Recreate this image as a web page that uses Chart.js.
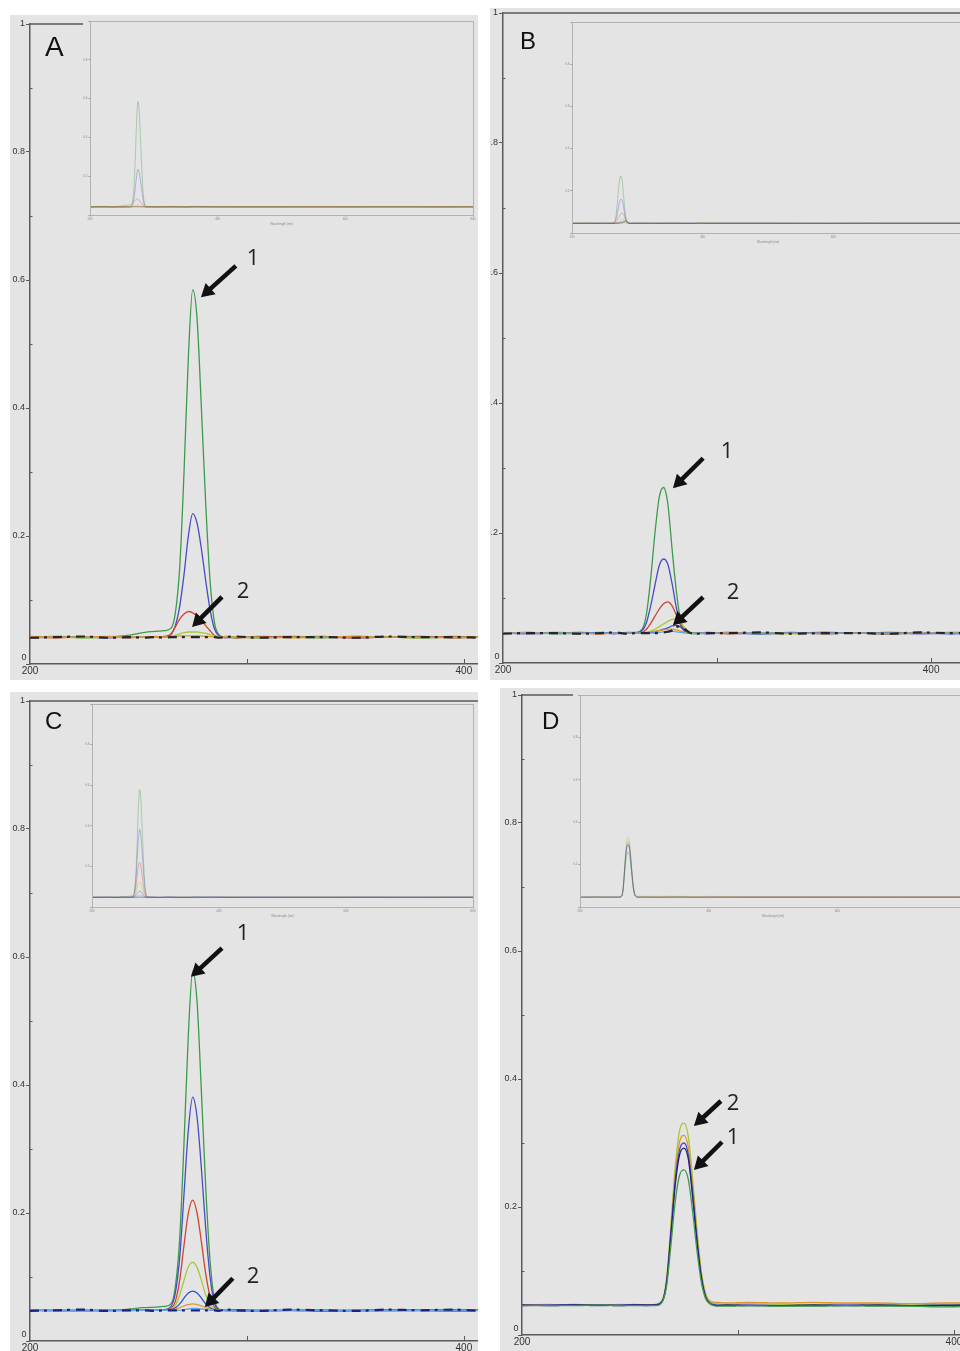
<!DOCTYPE html>
<html>
<head>
<meta charset="utf-8">
<title>Absorbance spectra A-D</title>
<script src="https://cdn.jsdelivr.net/npm/chart.js@4.4.1/dist/chart.umd.min.js"></script>
<style>
  body { margin: 0; background: #fff; }
  #sheet { position: relative; width: 960px; height: 1351px; overflow: hidden; background: #fff; }
  canvas { position: absolute; }
  canvas.main { z-index: 1; }
  canvas.inset { z-index: 2; }
  .tag { position: absolute; z-index: 5; line-height: 1; color: #111;
         font-family: "Liberation Sans", Arial, sans-serif; }
</style>
</head>
<body>
<div id="sheet">
  <canvas class="main" id="mainA" width="468" height="665" style="left:10px;top:15px"></canvas>
  <canvas class="main" id="mainB" width="470" height="672" style="left:490px;top:8px"></canvas>
  <canvas class="main" id="mainC" width="468" height="659" style="left:10px;top:692px"></canvas>
  <canvas class="main" id="mainD" width="460" height="663" style="left:500px;top:688px"></canvas>

  <canvas class="inset" id="insetA" width="395" height="209" style="left:83px;top:17px"></canvas>
  <canvas class="inset" id="insetB" width="405" height="226" style="left:565px;top:18px"></canvas>
  <canvas class="inset" id="insetC" width="393" height="216" style="left:85px;top:702px"></canvas>
  <canvas class="inset" id="insetD" width="400" height="227" style="left:573px;top:691px"></canvas>

  <div class="tag" style="left:45px;top:33px;font-size:28px">A</div>
  <div class="tag" style="left:520px;top:29px;font-size:24px">B</div>
  <div class="tag" style="left:45px;top:709px;font-size:24px">C</div>
  <div class="tag" style="left:542px;top:709px;font-size:24px">D</div>
</div>
<script>
// wavelength grid (nm) shared by every trace
const wavelengths = [200, 212, 224, 236, 246, 252, 258, 262, 265, 267, 269, 271, 273, 275, 277, 279, 281, 283, 285, 287,
  290, 295, 305, 320, 335, 350, 365, 380, 395, 410, 450, 500, 550, 600, 650, 700, 750, 800];

// axis ticks
const mainXTicks = [200, 300, 400];
const mainXLabels = [200, 400];
const insetXTicks = [200, 400, 600, 800];

// ---- panel A absorbance ----
const aGreen = [0.042, 0.043, 0.041, 0.042, 0.045, 0.049, 0.051, 0.052, 0.056, 0.080, 0.150, 0.300, 0.480, 0.585, 0.540, 0.400, 0.250, 0.130, 0.065, 0.046,
  0.042, 0.041, 0.043, 0.042, 0.041, 0.043, 0.042, 0.041, 0.042, 0.043, 0.042, 0.042, 0.041, 0.042, 0.043, 0.042, 0.041, 0.042];
const aBlue = [0.041, 0.042, 0.042, 0.041, 0.042, 0.042, 0.042, 0.042, 0.046, 0.060, 0.090, 0.140, 0.200, 0.235, 0.220, 0.180, 0.130, 0.085, 0.055, 0.044,
  0.041, 0.042, 0.041, 0.042, 0.043, 0.041, 0.042, 0.043, 0.041, 0.042, 0.041, 0.042, 0.042, 0.041, 0.042, 0.042, 0.041, 0.042];
const aRed = [0.042, 0.041, 0.042, 0.042, 0.041, 0.042, 0.042, 0.043, 0.047, 0.058, 0.070, 0.078, 0.082, 0.080, 0.075, 0.068, 0.060, 0.052, 0.045, 0.042,
  0.042, 0.041, 0.042, 0.043, 0.042, 0.041, 0.042, 0.042, 0.043, 0.042, 0.042, 0.041, 0.042, 0.042, 0.041, 0.042, 0.042, 0.042];
const aLime = [0.042, 0.042, 0.041, 0.042, 0.042, 0.042, 0.042, 0.042, 0.043, 0.045, 0.047, 0.049, 0.050, 0.050, 0.050, 0.049, 0.048, 0.046, 0.044, 0.042,
  0.042, 0.042, 0.041, 0.042, 0.042, 0.043, 0.042, 0.041, 0.042, 0.042, 0.043, 0.042, 0.042, 0.041, 0.042, 0.042, 0.042, 0.042];
const aOrange = [0.043, 0.042, 0.042, 0.043, 0.042, 0.042, 0.043, 0.042, 0.043, 0.043, 0.044, 0.044, 0.044, 0.044, 0.044, 0.044, 0.043, 0.043, 0.042, 0.042,
  0.043, 0.042, 0.042, 0.041, 0.042, 0.043, 0.042, 0.042, 0.041, 0.042, 0.042, 0.042, 0.043, 0.042, 0.042, 0.042, 0.042, 0.042];
const aBlack = [0.041, 0.042, 0.043, 0.041, 0.042, 0.041, 0.042, 0.041, 0.042, 0.042, 0.042, 0.042, 0.042, 0.042, 0.042, 0.042, 0.042, 0.042, 0.042, 0.041,
  0.042, 0.043, 0.041, 0.042, 0.042, 0.041, 0.043, 0.042, 0.042, 0.041, 0.042, 0.042, 0.042, 0.042, 0.042, 0.042, 0.042, 0.042];

// ---- panel B absorbance ----
const bGreen = [0.046, 0.047, 0.045, 0.046, 0.047, 0.046, 0.047, 0.047, 0.052, 0.075, 0.130, 0.200, 0.255, 0.270, 0.245, 0.175, 0.110, 0.065, 0.050, 0.046,
  0.045, 0.046, 0.047, 0.045, 0.046, 0.047, 0.046, 0.045, 0.046, 0.047, 0.046, 0.046, 0.045, 0.046, 0.047, 0.046, 0.046, 0.046];
const bBlue = [0.046, 0.045, 0.046, 0.047, 0.046, 0.045, 0.046, 0.046, 0.050, 0.062, 0.088, 0.120, 0.150, 0.160, 0.152, 0.122, 0.085, 0.058, 0.048, 0.046,
  0.046, 0.045, 0.046, 0.046, 0.047, 0.045, 0.046, 0.046, 0.045, 0.046, 0.046, 0.046, 0.046, 0.045, 0.046, 0.046, 0.046, 0.046];
const bRed = [0.046, 0.046, 0.047, 0.046, 0.045, 0.046, 0.046, 0.046, 0.047, 0.052, 0.061, 0.072, 0.083, 0.091, 0.094, 0.088, 0.074, 0.060, 0.050, 0.046,
  0.046, 0.046, 0.045, 0.046, 0.046, 0.047, 0.046, 0.045, 0.046, 0.046, 0.046, 0.046, 0.046, 0.046, 0.046, 0.046, 0.046, 0.046];
const bLime = [0.046, 0.046, 0.046, 0.045, 0.046, 0.046, 0.046, 0.046, 0.046, 0.047, 0.049, 0.052, 0.056, 0.060, 0.064, 0.067, 0.068, 0.062, 0.054, 0.048,
  0.046, 0.046, 0.046, 0.046, 0.045, 0.046, 0.046, 0.046, 0.046, 0.046, 0.046, 0.046, 0.046, 0.046, 0.046, 0.046, 0.046, 0.046];
const bMidBlue = [0.046, 0.046, 0.046, 0.046, 0.046, 0.046, 0.046, 0.046, 0.046, 0.046, 0.047, 0.048, 0.050, 0.052, 0.054, 0.057, 0.058, 0.055, 0.050, 0.047,
  0.046, 0.047, 0.046, 0.045, 0.046, 0.046, 0.046, 0.047, 0.046, 0.045, 0.046, 0.046, 0.046, 0.046, 0.046, 0.046, 0.046, 0.046];
const bOrange = [0.046, 0.047, 0.046, 0.046, 0.045, 0.046, 0.046, 0.046, 0.046, 0.047, 0.048, 0.049, 0.050, 0.051, 0.052, 0.052, 0.051, 0.049, 0.047, 0.046,
  0.046, 0.046, 0.047, 0.046, 0.046, 0.045, 0.046, 0.046, 0.047, 0.046, 0.046, 0.046, 0.046, 0.046, 0.046, 0.046, 0.046, 0.046];
const bCyan = [0.046, 0.046, 0.046, 0.046, 0.046, 0.046, 0.046, 0.046, 0.046, 0.046, 0.046, 0.046, 0.047, 0.048, 0.049, 0.049, 0.048, 0.047, 0.046, 0.046,
  0.046, 0.046, 0.046, 0.046, 0.046, 0.046, 0.046, 0.046, 0.046, 0.046, 0.046, 0.046, 0.046, 0.046, 0.046, 0.046, 0.046, 0.046];
const bBlack = [0.045, 0.046, 0.046, 0.045, 0.046, 0.047, 0.045, 0.046, 0.046, 0.046, 0.046, 0.046, 0.046, 0.047, 0.048, 0.050, 0.055, 0.057, 0.052, 0.047,
  0.045, 0.046, 0.046, 0.047, 0.045, 0.046, 0.046, 0.045, 0.047, 0.046, 0.046, 0.046, 0.046, 0.046, 0.046, 0.046, 0.046, 0.046];

// ---- panel C absorbance ----
const cGreen = [0.048, 0.047, 0.048, 0.048, 0.050, 0.052, 0.053, 0.054, 0.058, 0.085, 0.160, 0.310, 0.480, 0.578, 0.530, 0.390, 0.240, 0.125, 0.065, 0.050,
  0.047, 0.048, 0.047, 0.048, 0.049, 0.047, 0.048, 0.048, 0.047, 0.048, 0.048, 0.047, 0.048, 0.048, 0.048, 0.047, 0.048, 0.048];
const cBlue = [0.048, 0.048, 0.047, 0.048, 0.048, 0.048, 0.048, 0.049, 0.054, 0.075, 0.130, 0.230, 0.330, 0.381, 0.350, 0.270, 0.175, 0.100, 0.060, 0.049,
  0.048, 0.047, 0.048, 0.048, 0.047, 0.048, 0.049, 0.048, 0.047, 0.048, 0.048, 0.048, 0.047, 0.048, 0.048, 0.048, 0.048, 0.048];
const cRed = [0.048, 0.048, 0.048, 0.047, 0.048, 0.048, 0.048, 0.048, 0.051, 0.062, 0.095, 0.150, 0.200, 0.220, 0.200, 0.155, 0.105, 0.070, 0.053, 0.048,
  0.048, 0.048, 0.047, 0.048, 0.048, 0.048, 0.047, 0.048, 0.048, 0.049, 0.048, 0.048, 0.048, 0.048, 0.048, 0.048, 0.048, 0.048];
const cLime = [0.048, 0.048, 0.048, 0.048, 0.047, 0.048, 0.048, 0.048, 0.050, 0.056, 0.072, 0.095, 0.116, 0.123, 0.115, 0.095, 0.072, 0.057, 0.050, 0.048,
  0.048, 0.048, 0.048, 0.047, 0.048, 0.048, 0.048, 0.048, 0.048, 0.048, 0.047, 0.048, 0.048, 0.048, 0.048, 0.048, 0.048, 0.048];
const cMidBlue = [0.048, 0.048, 0.048, 0.048, 0.048, 0.048, 0.048, 0.048, 0.049, 0.052, 0.058, 0.067, 0.075, 0.078, 0.075, 0.067, 0.058, 0.052, 0.049, 0.048,
  0.048, 0.049, 0.048, 0.048, 0.047, 0.048, 0.048, 0.048, 0.049, 0.048, 0.048, 0.048, 0.048, 0.048, 0.048, 0.048, 0.048, 0.048];
const cOrange = [0.048, 0.048, 0.048, 0.048, 0.048, 0.048, 0.048, 0.048, 0.048, 0.050, 0.052, 0.055, 0.057, 0.058, 0.057, 0.055, 0.052, 0.050, 0.048, 0.048,
  0.048, 0.048, 0.047, 0.048, 0.048, 0.048, 0.048, 0.047, 0.048, 0.048, 0.048, 0.048, 0.048, 0.048, 0.048, 0.048, 0.048, 0.048];
const cCyan = [0.048, 0.048, 0.048, 0.048, 0.048, 0.048, 0.048, 0.048, 0.048, 0.048, 0.048, 0.049, 0.050, 0.051, 0.051, 0.050, 0.049, 0.048, 0.048, 0.048,
  0.048, 0.048, 0.048, 0.048, 0.048, 0.048, 0.048, 0.048, 0.048, 0.048, 0.048, 0.048, 0.048, 0.048, 0.048, 0.048, 0.048, 0.048];
const cNavy = [0.047, 0.048, 0.049, 0.047, 0.048, 0.048, 0.047, 0.048, 0.048, 0.048, 0.048, 0.048, 0.048, 0.048, 0.048, 0.048, 0.048, 0.048, 0.048, 0.047,
  0.049, 0.048, 0.047, 0.049, 0.048, 0.047, 0.049, 0.048, 0.049, 0.047, 0.048, 0.048, 0.048, 0.048, 0.048, 0.048, 0.048, 0.048];

// ---- panel D absorbance ----
const dLime = [0.047, 0.048, 0.047, 0.047, 0.048, 0.047, 0.047, 0.048, 0.055, 0.090, 0.175, 0.265, 0.320, 0.331, 0.310, 0.245, 0.165, 0.100, 0.065, 0.052,
  0.049, 0.048, 0.049, 0.048, 0.048, 0.049, 0.048, 0.047, 0.048, 0.048, 0.048, 0.048, 0.048, 0.048, 0.048, 0.048, 0.048, 0.048];
const dOrange = [0.047, 0.047, 0.048, 0.047, 0.047, 0.048, 0.047, 0.048, 0.054, 0.087, 0.167, 0.252, 0.302, 0.312, 0.293, 0.232, 0.157, 0.096, 0.064, 0.053,
  0.051, 0.050, 0.051, 0.050, 0.051, 0.050, 0.050, 0.049, 0.050, 0.050, 0.049, 0.049, 0.049, 0.049, 0.049, 0.049, 0.049, 0.049];
const dBlue = [0.046, 0.047, 0.047, 0.046, 0.047, 0.047, 0.046, 0.047, 0.053, 0.085, 0.162, 0.243, 0.290, 0.300, 0.282, 0.222, 0.150, 0.092, 0.060, 0.050,
  0.047, 0.046, 0.047, 0.046, 0.046, 0.047, 0.046, 0.046, 0.047, 0.046, 0.047, 0.047, 0.047, 0.047, 0.047, 0.047, 0.047, 0.047];
const dNavy = [0.047, 0.046, 0.047, 0.047, 0.046, 0.047, 0.047, 0.047, 0.053, 0.083, 0.158, 0.236, 0.282, 0.292, 0.275, 0.216, 0.146, 0.090, 0.059, 0.049,
  0.046, 0.047, 0.046, 0.046, 0.047, 0.046, 0.047, 0.046, 0.046, 0.047, 0.046, 0.046, 0.046, 0.046, 0.046, 0.046, 0.046, 0.046];
const dGreen = [0.046, 0.046, 0.046, 0.047, 0.046, 0.046, 0.046, 0.046, 0.052, 0.078, 0.142, 0.210, 0.250, 0.258, 0.243, 0.193, 0.132, 0.083, 0.057, 0.049,
  0.045, 0.045, 0.046, 0.045, 0.045, 0.046, 0.045, 0.045, 0.044, 0.045, 0.045, 0.045, 0.045, 0.045, 0.045, 0.045, 0.045, 0.045];

// peak markers, in wavelength / absorbance units
const arrowsA = [
  { text: '1', tail: [294.9, 0.622], tip: [278.8, 0.573], at: [302.8, 0.633] },
  { text: '2', tail: [288.5, 0.105], tip: [274.7, 0.058], at: [298.2, 0.1125] }
];
const arrowsB = [
  { text: '1', tail: [293.5, 0.315], tip: [279.4, 0.269], at: [304.7, 0.325] },
  { text: '2', tail: [293.5, 0.1015], tip: [279.4, 0.058], at: [307.5, 0.108] }
];
const arrowsC = [
  { text: '1', tail: [288.5, 0.614], tip: [274.2, 0.569], at: [298.2, 0.636] },
  { text: '2', tail: [293.5, 0.098], tip: [280.6, 0.053], at: [302.8, 0.100] }
];
const arrowsD = [
  { text: '2', tail: [292.1, 0.3656], tip: [279.6, 0.3266], at: [297.7, 0.361] },
  { text: '1', tail: [292.6, 0.3016], tip: [279.6, 0.258], at: [297.7, 0.309] }
];

const GREEN = '#3d9a4c', BLUE = '#4b4bc4', RED = '#cf4530', LIME = '#a6c93a', ORANGE = '#e0962a',
  BLACK = '#262626', MIDBLUE = '#2f4fd6', CYAN = '#5fa9e6', NAVY = '#20207e';
const GRAY_BG = '#e4e4e4', AXIS = '#5a5a5a', LABEL = '#333';

// noisy baseline traces are drawn broken so the colours below show through
const seriesA = [
  { values: aBlack, color: BLACK, noisy: true }, { values: aOrange, color: ORANGE }, { values: aLime, color: LIME },
  { values: aRed, color: RED }, { values: aBlue, color: BLUE }, { values: aGreen, color: GREEN }
];
const seriesB = [
  { values: bBlack, color: BLACK, noisy: true }, { values: bCyan, color: CYAN }, { values: bOrange, color: ORANGE },
  { values: bMidBlue, color: MIDBLUE }, { values: bLime, color: LIME }, { values: bRed, color: RED },
  { values: bBlue, color: BLUE }, { values: bGreen, color: GREEN }
];
const seriesC = [
  { values: cNavy, color: NAVY, noisy: true }, { values: cCyan, color: CYAN }, { values: cOrange, color: ORANGE },
  { values: cMidBlue, color: MIDBLUE }, { values: cLime, color: LIME }, { values: cRed, color: RED },
  { values: cBlue, color: BLUE }, { values: cGreen, color: GREEN }
];
const seriesD = [
  { values: dGreen, color: GREEN }, { values: dNavy, color: NAVY }, { values: dBlue, color: BLUE },
  { values: dOrange, color: ORANGE }, { values: dLime, color: LIME }
];

Chart.defaults.font.family = '"Liberation Sans", Arial, sans-serif';

function fade(hex, alpha) {
  const n = parseInt(hex.slice(1), 16);
  return `rgba(${(n >> 16) & 255},${(n >> 8) & 255},${n & 255},${alpha})`;
}

function buildDatasets(series, width, faded) {
  return series.map(s => ({
    data: wavelengths.map((w, i) => ({ x: w, y: s.values[i] })),
    borderColor: faded ? fade(s.color, 0.45) : s.color,
    borderWidth: (!faded && s.noisy) ? width + 0.9 : width,
    borderDash: (!faded && s.noisy) ? [9, 5, 3, 6] : [],
    pointRadius: 0,
    fill: false,
    cubicInterpolationMode: 'monotone'
  }));
}

const isMajor = v => Math.round(v * 10) % 2 === 0;

const panelBackground = {
  id: 'panelBackground',
  beforeDraw(chart) {
    const { ctx, width, height } = chart;
    ctx.save();
    ctx.fillStyle = GRAY_BG;
    ctx.fillRect(0, 0, width, height);
    ctx.restore();
  }
};

// top frame line, small inward ticks and the "0" at the origin
const mainFrame = {
  id: 'mainFrame',
  afterDraw(chart) {
    const { ctx, chartArea: a, scales: { x, y } } = chart;
    ctx.save();
    ctx.strokeStyle = AXIS;
    ctx.lineWidth = 1.5;
    ctx.beginPath();
    ctx.moveTo(a.left, a.top);
    ctx.lineTo(a.right, a.top);
    ctx.stroke();
    ctx.lineWidth = 1;
    ctx.beginPath();
    mainXTicks.slice(1).forEach(v => {
      const px = Math.round(x.getPixelForValue(v)) + 0.5;
      ctx.moveTo(px, a.bottom);
      ctx.lineTo(px, a.bottom - 5);
    });
    [0.1, 0.3, 0.5, 0.7, 0.9].forEach(v => {
      const py = Math.round(y.getPixelForValue(v)) + 0.5;
      ctx.moveTo(a.left, py);
      ctx.lineTo(a.left + 2.5, py);
    });
    ctx.stroke();
    ctx.fillStyle = LABEL;
    ctx.font = '9px "Liberation Sans", Arial, sans-serif';
    ctx.textAlign = 'center';
    ctx.fillText('0', a.left - 6, y.getPixelForValue(0) - 4);
    ctx.restore();
  }
};

const peakArrows = {
  id: 'peakArrows',
  afterDatasetsDraw(chart, args, opts) {
    const { ctx, scales: { x, y } } = chart;
    ctx.save();
    (opts.list || []).forEach(a => {
      const x0 = x.getPixelForValue(a.tail[0]), y0 = y.getPixelForValue(a.tail[1]);
      const x1 = x.getPixelForValue(a.tip[0]), y1 = y.getPixelForValue(a.tip[1]);
      const ang = Math.atan2(y1 - y0, x1 - x0);
      const cos = Math.cos(ang), sin = Math.sin(ang);
      const head = 13, half = 7.5;
      const bx = x1 - cos * head, by = y1 - sin * head;
      ctx.strokeStyle = '#111';
      ctx.fillStyle = '#111';
      ctx.lineWidth = 4.5;
      ctx.beginPath();
      ctx.moveTo(x0, y0);
      ctx.lineTo(bx + cos * 2, by + sin * 2);
      ctx.stroke();
      ctx.beginPath();
      ctx.moveTo(x1, y1);
      ctx.lineTo(bx + sin * half, by - cos * half);
      ctx.lineTo(bx - sin * half, by + cos * half);
      ctx.closePath();
      ctx.fill();
      ctx.font = '22px "Open Sans", "Liberation Sans", sans-serif';
      ctx.textAlign = 'center';
      ctx.textBaseline = 'middle';
      ctx.fillStyle = '#222';
      ctx.fillText(a.text, x.getPixelForValue(a.at[0]), y.getPixelForValue(a.at[1]));
    });
    ctx.restore();
  }
};

const insetFrame = {
  id: 'insetFrame',
  afterDraw(chart) {
    const { ctx, chartArea: a } = chart;
    ctx.save();
    ctx.strokeStyle = '#b2b2b2';
    ctx.lineWidth = 1;
    ctx.strokeRect(Math.round(a.left) + 0.5, Math.round(a.top) + 0.5, Math.round(a.right - a.left), Math.round(a.bottom - a.top));
    ctx.restore();
  }
};

function mainOptions(p) {
  return {
    responsive: false,
    animation: false,
    events: [],
    layout: { padding: { top: p.padTop, left: 0, right: 0, bottom: 0 } },
    plugins: { legend: { display: false }, tooltip: { enabled: false }, peakArrows: { list: p.arrows } },
    scales: {
      x: {
        type: 'linear', min: 200, max: p.xMax,
        afterBuildTicks: s => { s.ticks = mainXTicks.map(v => ({ value: v })); },
        afterFit: s => { s.height = p.xAxisHeight; s.paddingLeft = 0; s.paddingRight = 0; },
        grid: { drawOnChartArea: false, drawTicks: false },
        border: { color: AXIS, width: 1.5 },
        ticks: {
          padding: 1, autoSkip: false, maxRotation: 0,
          color: LABEL, font: { size: 10 },
          callback: v => mainXLabels.includes(v) ? String(v) : ''
        }
      },
      y: {
        min: 0, max: 1,
        afterFit: s => { s.width = p.yAxisWidth; s.paddingTop = 0; s.paddingBottom = 0; },
        grid: { drawOnChartArea: false, tickLength: 4, tickColor: c => isMajor(c.tick.value) ? AXIS : 'rgba(0,0,0,0)' },
        border: { color: AXIS, width: 1.5 },
        ticks: {
          stepSize: 0.1, padding: 1, autoSkip: false, color: LABEL, font: { size: 9 },
          callback: v => (isMajor(v) && v > 0.05) ? (v > 0.95 ? '1' : v.toFixed(1)) : ''
        }
      }
    }
  };
}

function insetOptions(p) {
  const tiny = { size: 3 };
  return {
    responsive: false,
    animation: false,
    events: [],
    layout: { padding: { top: p.padTop, right: p.padRight, left: 0, bottom: 0 } },
    plugins: { legend: { display: false }, tooltip: { enabled: false } },
    scales: {
      x: {
        type: 'linear', min: 200, max: 800,
        afterBuildTicks: s => { s.ticks = insetXTicks.map(v => ({ value: v })); },
        afterFit: s => { s.height = 11; s.paddingLeft = 0; s.paddingRight = 0; },
        grid: { drawOnChartArea: false, tickLength: 1.5, color: '#9a9a9a' },
        border: { display: false },
        ticks: { padding: 1, autoSkip: false, maxRotation: 0, color: '#8a8a8a', font: tiny },
        title: { display: true, text: 'Wavelength (nm)', color: '#8a8a8a', font: tiny, padding: { top: 1, bottom: 0 } }
      },
      y: {
        min: 0, max: 1,
        afterFit: s => { s.width = 7; s.paddingTop = 0; s.paddingBottom = 0; },
        grid: { drawOnChartArea: false, tickLength: 1.5, color: '#9a9a9a' },
        border: { display: false },
        ticks: {
          stepSize: 0.2, padding: 1, autoSkip: false, color: '#8a8a8a', font: tiny,
          callback: v => (v > 0.05 && v < 0.95) ? v.toFixed(1) : ''
        }
      }
    }
  };
}

function drawMain(id, series, p) {
  new Chart(document.getElementById(id), {
    type: 'line',
    data: { datasets: buildDatasets(series, 1.3, false) },
    options: mainOptions(p),
    plugins: [panelBackground, mainFrame, peakArrows]
  });
}

function drawInset(id, series, p) {
  new Chart(document.getElementById(id), {
    type: 'line',
    data: { datasets: buildDatasets(series, 0.8, true) },
    options: insetOptions(p),
    plugins: [panelBackground, insetFrame]
  });
}

drawMain('mainA', seriesA, { xMax: 406.5, yAxisWidth: 20, xAxisHeight: 16, padTop: 9, arrows: arrowsA });
drawMain('mainB', seriesB, { xMax: 413.5, yAxisWidth: 13, xAxisHeight: 17, padTop: 5, arrows: arrowsB });
drawMain('mainC', seriesC, { xMax: 406.5, yAxisWidth: 20, xAxisHeight: 10, padTop: 9, arrows: arrowsC });
drawMain('mainD', seriesD, { xMax: 402.8, yAxisWidth: 22, xAxisHeight: 16, padTop: 7, arrows: arrowsD });

drawInset('insetA', seriesA, { padTop: 4, padRight: 5 });
drawInset('insetB', seriesB, { padTop: 4, padRight: 6 });
drawInset('insetC', seriesC, { padTop: 2, padRight: 5 });
drawInset('insetD', seriesD, { padTop: 4, padRight: 7 });
</script>
</body>
</html>
